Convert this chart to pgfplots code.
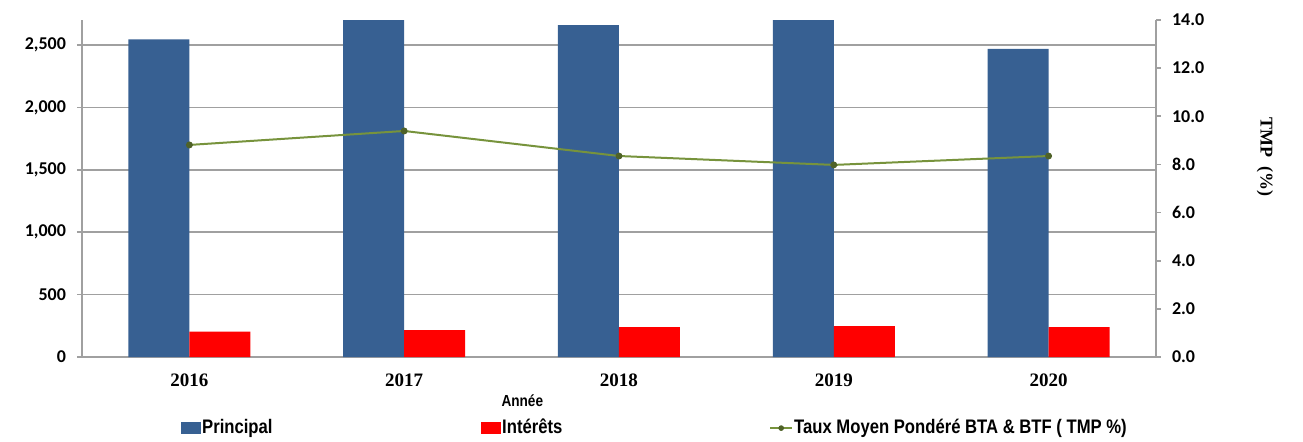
\documentclass[border=0pt]{standalone}
\usepackage{fontspec}
\setmainfont{Liberation Sans}
\newfontfamily\carlito{Carlito}
\newfontfamily\serifb{Liberation Serif}
\newfontfamily\narrow[FakeStretch=0.85]{Liberation Sans}
\usepackage{pgfplots}
\pgfplotsset{compat=1.18}
\definecolor{barblue}{RGB}{55,96,146}
\definecolor{barred}{RGB}{255,0,0}
\definecolor{lgreen}{RGB}{119,147,60}
\definecolor{dgreen}{RGB}{79,98,40}
\definecolor{axgray}{RGB}{160,160,160}
\begin{document}
\begin{tikzpicture}
\begin{axis}[
  name=main,
  scale only axis, width=537pt, height=168.5pt,
  xmin=-0.5, xmax=4.5, ymin=0, ymax=2700,
  ybar=0pt, bar width=30.5pt,
  axis x line*=bottom, axis y line*=left,
  axis line style={draw=axgray, line width=0.8pt, -},
  xtick={0,1,2,3,4}, xticklabels={2016,2017,2018,2019,2020},
  x tick style={draw=none},
  x tick label style={font=\serifb\bfseries\fontsize{9.5}{10}\selectfont, yshift=-2.5pt},
  ytick={0,500,1000,1500,2000,2500},
  y tick style={draw=axgray, line width=0.8pt},
  tick align=outside, major tick length=2.5pt,
  y tick label style={font=\carlito\bfseries\fontsize{9}{10}\selectfont, xshift=-2pt},
  /pgf/number format/assume math mode=true,
  /pgf/number format/1000 sep={,},
  scaled y ticks=false,
  ymajorgrids, grid style={draw=axgray, line width=0.8pt},
  xlabel={Année},
  xlabel style={font=\narrow\bfseries\fontsize{8}{9}\selectfont, at={(axis description cs:0.41,0)}, anchor=center, yshift=-22pt},
  legend columns=3,
  legend cell align=left,
  legend style={draw=none, fill=none, at={(axis description cs:0.092,-0.211)}, anchor=west,
    inner xsep=0pt, inner ysep=0pt, column sep=0pt,
    nodes={inner xsep=0.5pt, inner ysep=1pt},
    font=\narrow\bfseries\fontsize{9.8}{11}\selectfont},
]
\addplot[fill=barblue, draw=none, legend image code/.code={\fill[barblue] (0pt,-3pt) rectangle (10pt,3pt);}]
  coordinates {(0,2544) (1,2760) (2,2660) (3,2750) (4,2468)};
\addlegendentry{\makebox[139pt][l]{Principal}}
\addplot[fill=barred, draw=none, legend image code/.code={\fill[barred] (0pt,-3pt) rectangle (10pt,3pt);}]
  coordinates {(0,203) (1,216) (2,240) (3,248) (4,240)};
\addlegendentry{\makebox[133pt][l]{Intérêts}}
\addlegendimage{legend image code/.code={\draw[lgreen, line width=1pt] (0pt,0pt) -- (11pt,0pt); \fill[dgreen] (5.5pt,0pt) circle (1.2pt);}}
\addlegendentry{Taux Moyen Pondéré BTA \& BTF ( TMP \%)}
\end{axis}
\begin{axis}[
  scale only axis, width=537pt, height=168.5pt,
  xmin=-0.5, xmax=4.5, ymin=0, ymax=14,
  axis x line=none, axis y line*=right,
  axis line style={draw=axgray, line width=0.8pt, -},
  ytick={0,2,4,6,8,10,12,14},
  y tick style={draw=axgray, line width=0.8pt},
  tick align=outside, major tick length=2.5pt,
  y tick label style={font=\carlito\bfseries\fontsize{9}{10}\selectfont, xshift=2pt},
  /pgf/number format/assume math mode=true,
  /pgf/number format/.cd, fixed, fixed zerofill, precision=1, /pgfplots/.cd,
  ylabel={TMP\ \ (\%)},
  ylabel style={font=\serifb\bfseries\fontsize{9}{10}\selectfont, at={(axis description cs:1.1015,0.593)}, anchor=center, rotate=180},
]
\addplot[lgreen, line width=1pt, mark=*, mark size=1.2pt, mark options={fill=dgreen, draw=dgreen}]
  coordinates {(0,8.81) (1,9.39) (2,8.35) (3,7.98) (4,8.35)};
\end{axis}
\pgfresetboundingbox
\path[use as bounding box] ([shift={(-41pt,-42pt)}]main.south west) rectangle ([shift={(610.5pt,178.5pt)}]main.south west);
\end{tikzpicture}
\end{document}
